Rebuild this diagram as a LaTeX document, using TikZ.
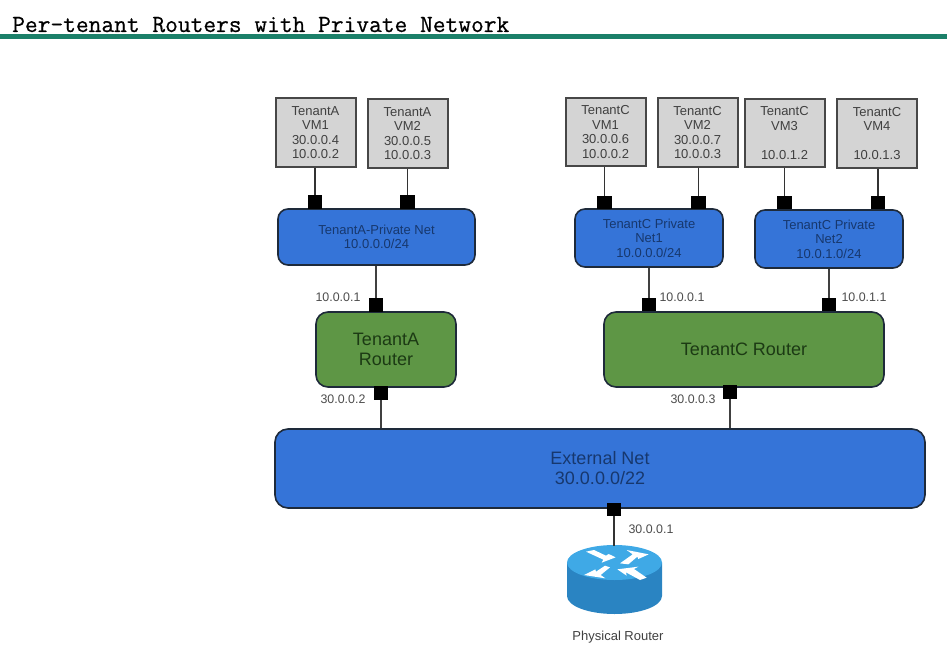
\documentclass[tikz,border=0pt]{standalone}
\usepackage{fontspec}
\setmainfont{Liberation Sans}
\setmonofont{Latin Modern Mono}
\definecolor{teal1}{HTML}{1B8069}
\definecolor{netblue}{HTML}{3574D8}
\definecolor{rgreen}{HTML}{5E9645}
\definecolor{vmgray}{HTML}{D4D4D4}
\definecolor{edge}{HTML}{1E2A3A}
\definecolor{vmtext}{HTML}{404040}
\definecolor{nettext}{HTML}{17386E}
\definecolor{rtext}{HTML}{1C3A14}
\definecolor{rtop}{HTML}{3FA9E6}
\definecolor{rside}{HTML}{2A84C2}
\tikzset{
  vmbox/.style={draw=black!72,line width=2pt,fill=vmgray,text=vmtext,align=center,inner sep=0pt,
    minimum width=80,minimum height=68,font=\fontsize{13}{14.4}\selectfont},
  netbox/.style={draw=edge,line width=1.6pt,fill=netblue,text=nettext,align=center,inner sep=0pt,
    rounded corners=10pt,font=\fontsize{13}{14.4}\selectfont},
  routerbox/.style={draw=edge,line width=1.6pt,fill=rgreen,text=rtext,align=center,inner sep=0pt,
    rounded corners=12pt,font=\fontsize{18}{20}\selectfont},
  extbox/.style={netbox,rounded corners=13pt,font=\fontsize{18}{20}\selectfont},
  portbox/.style={fill=black,inner sep=0pt,minimum width=14.5,minimum height=13.5},
  iplabel/.style={text=black!70,inner sep=0pt,font=\fontsize{12.4}{14}\selectfont},
  wire/.style={draw=black!80,line width=1.8pt},
  wirethin/.style={draw=black!75,line width=1.2pt},
  rarrow/.style={fill=white,draw=none}
}
\begin{document}
\begin{tikzpicture}[x=1pt,y=-1pt]
\useasboundingbox (0,0) rectangle (947,658);
% title
\node (title) [anchor=base west,inner sep=0pt,font=\ttfamily\fontsize{24.75}{26}\selectfont\addfontfeature{FakeBold=0.6}] at (12,32) {Per-tenant Routers with Private Network};
\fill[teal1] (0,34) rectangle (947,39);
% VMs
\node (avm1) [vmbox] at (315.5,132.5) {TenantA\\VM1\\30.0.0.4\\10.0.0.2};
\node (avm2) [vmbox] at (407.5,133.5) {TenantA\\VM2\\30.0.0.5\\10.0.0.3};
\node (cvm1) [vmbox] at (605.5,132) {TenantC\\VM1\\30.0.0.6\\10.0.0.2};
\node (cvm2) [vmbox] at (697.5,132.5) {TenantC\\VM2\\30.0.0.7\\10.0.0.3};
\node (cvm3) [vmbox] at (784.5,133) {TenantC\\VM3\\\mbox{}\\10.0.1.2};
\node (cvm4) [vmbox] at (877,133.5) {TenantC\\VM4\\\mbox{}\\10.0.1.3};
% nets
\node (anet) [netbox,minimum width=197,minimum height=56] at (376.5,237) {TenantA-Private Net\\10.0.0.0/24};
\node (cnet1) [netbox,minimum width=148,minimum height=58] at (649,238) {TenantC Private\\Net1\\10.0.0.0/24};
\node (cnet2) [netbox,minimum width=148,minimum height=58] at (829,239) {TenantC Private\\Net2\\10.0.1.0/24};
% routers
\node (arouter) [routerbox,minimum width=140,minimum height=75] at (386,349.5) {TenantA\\Router};
\node (crouter) [routerbox,minimum width=280,minimum height=75] at (744,349.5) {TenantC Router};
\node (ext) [extbox,minimum width=650,minimum height=79] at (600,468.5) {External Net\\30.0.0.0/22};
% ports
\node (pa1) [portbox] at (315,202) {};
\node (pa2) [portbox] at (407.5,202) {};
\node (pc1) [portbox] at (604.5,202.5) {};
\node (pc2) [portbox] at (698.5,202.5) {};
\node (pc3) [portbox] at (784.5,202.5) {};
\node (pc4) [portbox] at (878,202.5) {};
\node (pra) [portbox] at (376,305) {};
\node (prc1) [portbox] at (649,304.5) {};
\node (prc2) [portbox] at (829,304.5) {};
\node (pax) [portbox] at (381,393) {};
\node (pcx) [portbox] at (730,392) {};
\node (pxr) [portbox] at (614,509.5) {};
% wires
\draw[wire] (pa1.north |- avm1.south) -- (pa1.north);
\draw[wire] (pa2.north |- avm2.south) -- (pa2.north);
\draw[wire] (pc1.north |- cvm1.south) -- (pc1.north);
\draw[wire] (pc2.north |- cvm2.south) -- (pc2.north);
\draw[wire] (pc3.north |- cvm3.south) -- (pc3.north);
\draw[wire] (pc4.north |- cvm4.south) -- (pc4.north);
\draw[wirethin] (pra.north |- anet.south) -- (pra.north);
\draw[wirethin] (prc1.north |- cnet1.south) -- (prc1.north);
\draw[wirethin] (prc2.north |- cnet2.south) -- (prc2.north);
\draw[wirethin] (pax.south) -- (pax.south |- ext.north);
\draw[wirethin] (pcx.south) -- (pcx.south |- ext.north);
% ip labels
\node (l1) [iplabel] at (338,297) {10.0.0.1};
\node (l2) [iplabel] at (343,399) {30.0.0.2};
\node (l3) [iplabel] at (682,297) {10.0.0.1};
\node (l4) [iplabel] at (864,297) {10.0.1.1};
\node (l5) [iplabel] at (693,399) {30.0.0.3};
\node (l6) [iplabel] at (651,529) {30.0.0.1};
% physical router
\fill[rside] (567,562.5) -- (567,596) arc[start angle=180,end angle=360,x radius=47.5,y radius=-18] -- (662,562.5) -- cycle;
\fill[rtop] (614.5,562.5) ellipse[x radius=47.5,y radius=17.5];
\coordinate (phystop) at (pxr.south |- 0,546);
\draw[wire] (pxr.south) -- (phystop);
\begin{scope}[shift={(560,535)},x=0.3333pt,y=-0.3333pt]
\fill[rarrow] (78,50) -- (102,45) -- (138,62) -- (146,57) -- (167,67) -- (125,83) -- (130,74) -- cycle;
\fill[rarrow] (266,58) -- (235,72) -- (232,65) -- (205,88) -- (180,85) -- (218,58) -- (200,45) -- cycle;
\fill[rarrow] (72,120) -- (106,103) -- (108,110) -- (135,92) -- (150,97) -- (122,120) -- (136,130) -- cycle;
\fill[rarrow] (172,103) -- (235,95) -- (222,102) -- (260,128) -- (240,135) -- (198,112) -- (200,122) -- cycle;
\end{scope}
\node (phys) [inner sep=0pt,text=black!75,font=\fontsize{13}{14}\selectfont] at (618,637) {Physical Router};
\end{tikzpicture}
\end{document}
